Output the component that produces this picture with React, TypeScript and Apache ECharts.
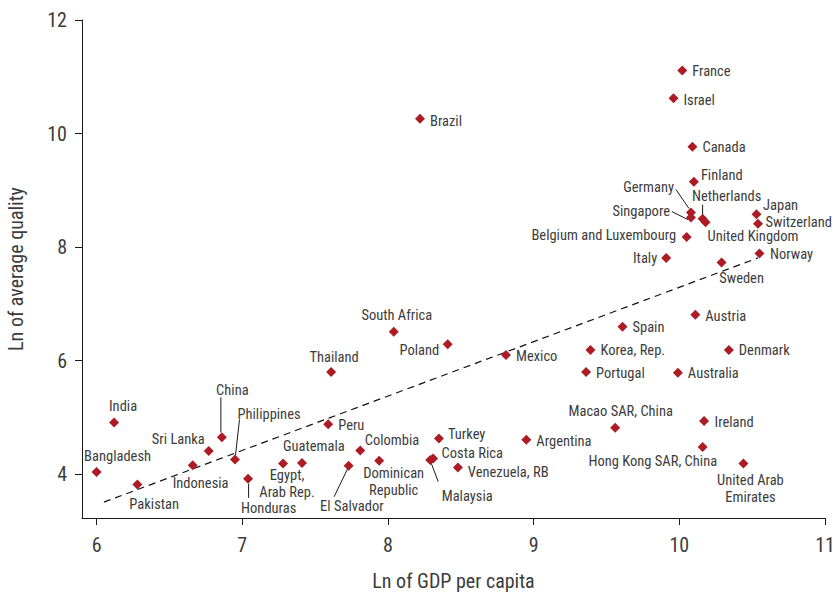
import React, { useEffect, useRef } from "react";
import * as echarts from "echarts";

// ---- Data ----
const countries: string[] = [
  "France", "Israel", "Brazil", "Canada", "Finland", "Germany", "Singapore", "Netherlands",
  "United Kingdom", "Japan", "Switzerland", "Belgium and Luxembourg", "Italy", "Sweden", "Norway",
  "South Africa", "Poland", "Thailand", "Mexico", "Austria", "Spain", "Korea, Rep.", "Denmark",
  "Portugal", "Australia", "India", "Bangladesh", "Pakistan", "Indonesia", "Sri Lanka", "China",
  "Philippines", "Honduras", "Egypt,\nArab Rep.", "Guatemala", "Peru", "El Salvador", "Colombia",
  "Dominican\nRepublic", "Turkey", "Costa Rica", "Malaysia", "Venezuela, RB", "Argentina",
  "Macao SAR, China", "Ireland", "Hong Kong SAR, China", "United Arab\nEmirates",
];
const lnGdpPerCapita: number[] = [
  10.02, 9.96, 8.22, 10.09, 10.10, 10.08, 10.08, 10.16,
  10.18, 10.53, 10.54, 10.05, 9.91, 10.29, 10.55,
  8.04, 8.41, 7.61, 8.81, 10.11, 9.61, 9.39, 10.34,
  9.36, 9.99, 6.12, 6.00, 6.28, 6.66, 6.77, 6.86,
  6.95, 7.04, 7.28, 7.41, 7.59, 7.73, 7.81,
  7.94, 8.35, 8.31, 8.29, 8.48, 8.95,
  9.56, 10.17, 10.16, 10.44,
];
const lnAvgQuality: number[] = [
  11.11, 10.62, 10.26, 9.77, 9.15, 8.61, 8.52, 8.50,
  8.44, 8.58, 8.41, 8.18, 7.81, 7.73, 7.89,
  6.51, 6.29, 5.80, 6.10, 6.81, 6.60, 6.19, 6.19,
  5.80, 5.79, 4.91, 4.04, 3.82, 4.16, 4.41, 4.65,
  4.26, 3.92, 4.19, 4.20, 4.88, 4.15, 4.42,
  4.24, 4.63, 4.28, 4.25, 4.12, 4.61,
  4.82, 4.94, 4.48, 4.19,
];
// fitted trend line end points
const trendX: number[] = [6.05, 10.54];
const trendY: number[] = [3.51, 7.81];

const xTicks: number[] = [6, 7, 8, 9, 10, 11];
const yTicks: number[] = [4, 6, 8, 10, 12];
const xAxisTitle = "Ln of GDP per capita";
const yAxisTitle = "Ln of average quality";

// ---- Label layout (pixel offsets from marker centre) ----
type Align = "left" | "right" | "center";
const labelLayout: Record<string, [Align, number, number]> = {
  "France": ["left", 10, 1],
  "Israel": ["left", 10, 2],
  "Brazil": ["left", 10, 2.5],
  "Canada": ["left", 10, 0.5],
  "Finland": ["left", 7, -6.5],
  "Germany": ["right", -17, -25],
  "Singapore": ["right", -21, -6.5],
  "Netherlands": ["center", 24, -22],
  "United Kingdom": ["left", 2, 14],
  "Japan": ["left", 6.5, -8.5],
  "Switzerland": ["left", 7.5, -1.5],
  "Belgium and Luxembourg": ["right", -10.5, -1.5],
  "Italy": ["right", -9, 1],
  "Sweden": ["center", 20, 16.5],
  "Norway": ["left", 10.5, 1],
  "South Africa": ["center", 3, -16],
  "Poland": ["right", -8.5, 6.5],
  "Thailand": ["center", 3, -14.5],
  "Mexico": ["left", 10, 1.5],
  "Austria": ["left", 10, 1.5],
  "Spain": ["left", 10, 0.5],
  "Korea, Rep.": ["left", 10, 0.5],
  "Denmark": ["left", 10, 0.5],
  "Portugal": ["left", 10, 1.5],
  "Australia": ["left", 10, 0.5],
  "India": ["center", 9, -16.5],
  "Bangladesh": ["center", 21, -16],
  "Pakistan": ["left", -8, 20.5],
  "Indonesia": ["left", -20, 18],
  "Sri Lanka": ["right", -4, -11],
  "China": ["center", 10.5, -47],
  "Philippines": ["left", 2.5, -45],
  "Honduras": ["left", -7, 30],
  "Egypt,\nArab Rep.": ["center", 4, 21],
  "Guatemala": ["left", -19, -16],
  "Peru": ["left", 10, 1.5],
  "El Salvador": ["left", -28.5, 40.5],
  "Colombia": ["left", 4.5, -9.5],
  "Dominican\nRepublic": ["center", 14.5, 21],
  "Turkey": ["left", 9, -4.5],
  "Costa Rica": ["left", 8.5, -4.5],
  "Malaysia": ["left", 11.5, 36.5],
  "Venezuela, RB": ["left", 10, 5.5],
  "Argentina": ["left", 10, 1.5],
  "Macao SAR, China": ["center", 5.5, -16],
  "Ireland": ["left", 10.5, 1.5],
  "Hong Kong SAR, China": ["right", 14.5, 14],
  "United Arab\nEmirates": ["center", 7, 25.5],
};
// leader lines: [x1, y1, x2, y2] pixel offsets from marker centre
const leaders: Record<string, [number, number, number, number]> = {
  "Germany": [-15, -23, -2, -4],
  "Singapore": [-19, -6, -3, 2],
  "Netherlands": [0, -14, 0, -4],
  "China": [-1, -40, -1, -5],
  "Philippines": [4.5, -40, 0.5, -4],
  "Honduras": [0.5, 5, 0.5, 19],
  "El Salvador": [-14.5, 31, -1, 3],
  "Malaysia": [1, 3, 8, 21.5],
};

const FONT = "'Liberation Sans Narrow', 'Arial Narrow', 'Roboto Condensed', 'Liberation Sans', sans-serif";
const MARKER = "#ad1c24";
const TEXT = "#3c3c3c";

export default function App() {
  const ref = useRef<HTMLDivElement>(null);
  useEffect(() => {
    if (!ref.current) return;
    const chart = echarts.init(ref.current, undefined, { renderer: "svg" });
    const points = countries.map((name, i) => {
      const lay = labelLayout[name] || ["left", 10, 0];
      return {
        name,
        value: [lnGdpPerCapita[i], lnAvgQuality[i]],
        label: {
          show: true,
          position: "inside",
          formatter: "{b}",
          align: lay[0],
          verticalAlign: "middle",
          offset: [lay[1], lay[2]],
        },
      };
    });
    chart.setOption({
      animation: false,
      textStyle: { fontFamily: FONT },
      grid: { left: 82, right: 8, top: 20, bottom: 74, outerBoundsMode: "none" },
      xAxis: {
        type: "value",
        min: 5.9,
        max: 11,
        name: xAxisTitle,
        nameLocation: "middle",
        nameGap: 53,
        nameTextStyle: { fontSize: 20, color: TEXT, fontFamily: FONT },
        axisLine: { show: true, onZero: false, lineStyle: { color: "#1a1a1a", width: 1 } },
        axisTick: { show: true, length: 7, customValues: xTicks, lineStyle: { color: "#1a1a1a" } },
        axisLabel: { customValues: xTicks, fontSize: 20, color: TEXT, margin: 17, fontFamily: FONT },
        splitLine: { show: false },
      },
      yAxis: {
        type: "value",
        min: 3.23,
        max: 12,
        name: yAxisTitle,
        nameLocation: "middle",
        nameGap: 56,
        nameTextStyle: { fontSize: 20, color: TEXT, fontFamily: FONT },
        axisLine: { show: true, onZero: false, lineStyle: { color: "#1a1a1a", width: 1 } },
        axisTick: { show: true, length: 7, customValues: yTicks, lineStyle: { color: "#1a1a1a" } },
        axisLabel: { customValues: yTicks, fontSize: 20, color: TEXT, margin: 15, fontFamily: FONT },
        splitLine: { show: false },
      },
      series: [
        {
          type: "line",
          data: trendX.map((x, i) => [x, trendY[i]]),
          showSymbol: false,
          symbol: "none",
          lineStyle: { color: "#111", width: 1.2, type: [7, 5] },
          silent: true,
          z: 1,
        },
        {
          type: "scatter",
          symbol: "diamond",
          symbolSize: 10,
          itemStyle: { color: MARKER, opacity: 1 },
          label: {
            color: TEXT,
            fontSize: 14.5,
            lineHeight: 17,
            fontFamily: FONT,
            textBorderWidth: 0,
          },
          data: points,
          z: 3,
        },
      ],
    });
    const graphics: any[] = [];
    countries.forEach((name, i) => {
      const l = leaders[name];
      if (!l) return;
      const p = chart.convertToPixel({ seriesIndex: 1 }, [lnGdpPerCapita[i], lnAvgQuality[i]]) as number[];
      graphics.push({
        type: "line",
        shape: { x1: p[0] + l[0], y1: p[1] + l[1], x2: p[0] + l[2], y2: p[1] + l[3] },
        style: { stroke: "#1a1a1a", lineWidth: 1 },
        silent: true,
        z: 2,
      });
    });
    chart.setOption({ graphic: graphics });
    return () => chart.dispose();
  }, []);
  return (
    <div
      ref={ref}
      style={{ position: "fixed", left: 0, top: 0, width: 833, height: 592, background: "#fff" }}
    />
  );
}
